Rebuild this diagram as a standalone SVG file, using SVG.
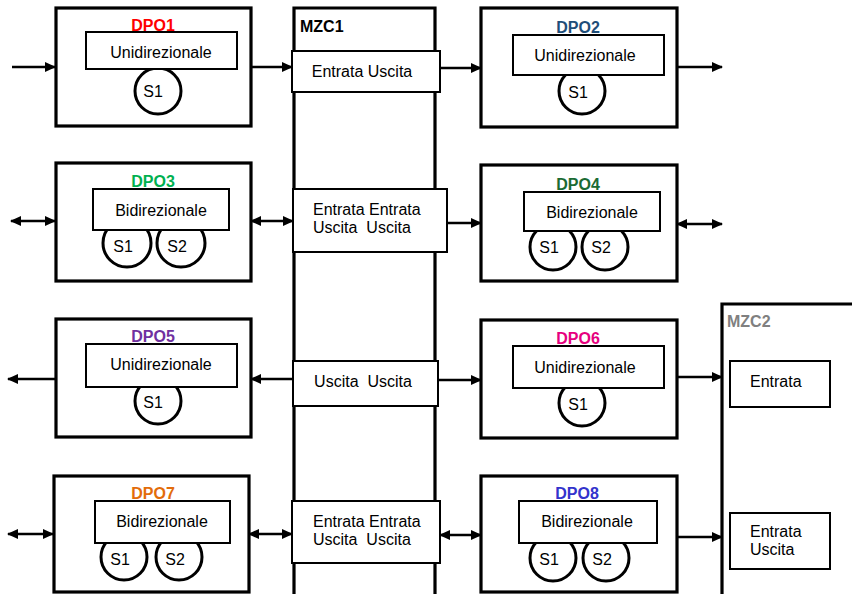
<svg xmlns="http://www.w3.org/2000/svg" width="852" height="594" viewBox="0 0 852 594">
<defs>
<marker id="ah" markerUnits="userSpaceOnUse" markerWidth="12" markerHeight="10" refX="10" refY="5" orient="auto-start-reverse">
<path d="M0,0 L11,5 L0,10 z" fill="#000"/>
</marker>
</defs>
<style>
.ob{fill:#fff;stroke:#000;stroke-width:3.2}
.ib{fill:#fff;stroke:#000;stroke-width:2}
.ci{fill:#fff;stroke:#000;stroke-width:3}
.t{font-family:"Liberation Sans",Arial,sans-serif;font-size:16px;fill:#000}
.c{text-anchor:middle}
.lb{font-family:"Liberation Sans",Arial,sans-serif;font-size:16px;font-weight:bold;text-anchor:middle}
.ar{stroke:#000;stroke-width:2.7;fill:none;marker-end:url(#ah)}
.bi{stroke:#000;stroke-width:2.7;fill:none;marker-end:url(#ah);marker-start:url(#ah)}
</style>
<rect width="852" height="594" fill="#fff"/>

<g id="MZC1">
<path d="M294,600 V8 H435 V600" fill="#fff" stroke="#000" stroke-width="3.2"/>
<text x="300" y="32" class="lb" style="text-anchor:start" fill="#000">MZC1</text>
<rect x="292" y="51" width="148" height="41" class="ib"/>
<text x="362" y="77" class="t c">Entrata Uscita</text>
<rect x="293" y="189" width="154" height="63" class="ib"/>
<text x="313" y="215" class="t">Entrata Entrata</text>
<text x="313" y="233" class="t" xml:space="preserve">Uscita  Uscita</text>
<rect x="293" y="361" width="145" height="45" class="ib"/>
<text x="363" y="387" class="t c" xml:space="preserve">Uscita  Uscita</text>
<rect x="292" y="501" width="148" height="62" class="ib"/>
<text x="313" y="527" class="t">Entrata Entrata</text>
<text x="313" y="545" class="t" xml:space="preserve">Uscita  Uscita</text>
</g>

<g id="MZC2">
<path d="M722,600 V304 H860" fill="#fff" stroke="#000" stroke-width="3.2"/>
<text x="727" y="327" class="lb" style="text-anchor:start" fill="#808080">MZC2</text>
<rect x="730" y="361" width="100" height="46" class="ib"/>
<text x="750" y="387" class="t">Entrata</text>
<rect x="730" y="513" width="100" height="56" class="ib"/>
<text x="750" y="537" class="t">Entrata</text>
<text x="750" y="555" class="t">Uscita</text>
</g>

<g id="DPO1">
<rect x="56" y="8" width="195" height="118" class="ob"/>
<text x="153" y="31" class="lb" fill="#FF0000">DPO1</text>
<circle cx="158" cy="91" r="23" class="ci"/>
<text x="153" y="97" class="t c">S1</text>
<rect x="86" y="32" width="151" height="37" class="ib"/>
<text x="161" y="58" class="t c">Unidirezionale</text>
</g>

<g id="DPO2">
<rect x="481" y="8" width="196" height="119" class="ob"/>
<text x="578" y="33" class="lb" fill="#1F4E79">DPO2</text>
<circle cx="582" cy="91" r="23" class="ci"/>
<text x="578" y="98" class="t c">S1</text>
<rect x="513" y="35" width="151" height="40" class="ib"/>
<text x="585" y="61" class="t c">Unidirezionale</text>
</g>

<g id="DPO3">
<rect x="56" y="163" width="195" height="118" class="ob"/>
<text x="153" y="187" class="lb" fill="#00B050">DPO3</text>
<circle cx="127" cy="243" r="24" class="ci"/>
<circle cx="181" cy="243" r="24" class="ci"/>
<text x="123" y="252" class="t c">S1</text>
<text x="177" y="252" class="t c">S2</text>
<rect x="93" y="189" width="136" height="41" class="ib"/>
<text x="161" y="216" class="t c">Bidirezionale</text>
</g>

<g id="DPO4">
<rect x="481" y="165" width="196" height="116" class="ob"/>
<text x="578" y="190" class="lb" fill="#1B6B33">DPO4</text>
<circle cx="553" cy="247" r="23" class="ci"/>
<circle cx="605" cy="247" r="23" class="ci"/>
<text x="549" y="253" class="t c">S1</text>
<text x="601" y="253" class="t c">S2</text>
<rect x="524" y="192" width="136" height="39" class="ib"/>
<text x="592" y="218" class="t c">Bidirezionale</text>
</g>

<g id="DPO5">
<rect x="56" y="319" width="195" height="118" class="ob"/>
<text x="153" y="342" class="lb" fill="#7030A0">DPO5</text>
<circle cx="158" cy="401" r="23" class="ci"/>
<text x="153" y="408" class="t c">S1</text>
<rect x="86" y="344" width="151" height="43" class="ib"/>
<text x="161" y="370" class="t c">Unidirezionale</text>
</g>

<g id="DPO6">
<rect x="481" y="320" width="196" height="118" class="ob"/>
<text x="578" y="344" class="lb" fill="#E6007E">DPO6</text>
<circle cx="582" cy="403" r="23" class="ci"/>
<text x="578" y="410" class="t c">S1</text>
<rect x="513" y="346" width="151" height="42" class="ib"/>
<text x="585" y="373" class="t c">Unidirezionale</text>
</g>

<g id="DPO7">
<rect x="54" y="476" width="195" height="116" class="ob"/>
<text x="153" y="499" class="lb" fill="#E36C0A">DPO7</text>
<circle cx="124" cy="557" r="23" class="ci"/>
<circle cx="179" cy="557" r="23" class="ci"/>
<text x="120" y="565" class="t c">S1</text>
<text x="175" y="565" class="t c">S2</text>
<rect x="95" y="501" width="135" height="42" class="ib"/>
<text x="162" y="527" class="t c">Bidirezionale</text>
</g>

<g id="DPO8">
<rect x="481" y="476" width="196" height="116" class="ob"/>
<text x="577" y="499" class="lb" fill="#3333CC">DPO8</text>
<circle cx="553" cy="558" r="23" class="ci"/>
<circle cx="606" cy="558" r="23" class="ci"/>
<text x="549" y="565" class="t c">S1</text>
<text x="602" y="565" class="t c">S2</text>
<rect x="519" y="501" width="138" height="42" class="ib"/>
<text x="587" y="527" class="t c">Bidirezionale</text>
</g>

<g id="connectors">
<line x1="12" y1="67" x2="55" y2="67" class="ar"/>
<line x1="251" y1="67" x2="292" y2="67" class="ar"/>
<line x1="440" y1="68" x2="481" y2="68" class="ar"/>
<line x1="677" y1="67" x2="722" y2="67" class="ar"/>

<line x1="11" y1="221" x2="55" y2="221" class="bi"/>
<line x1="251" y1="221" x2="293" y2="221" class="bi"/>
<line x1="447" y1="223" x2="481" y2="223" class="ar"/>
<line x1="677" y1="224" x2="722" y2="224" class="bi"/>

<line x1="55" y1="379" x2="8" y2="379" class="ar"/>
<line x1="293" y1="379" x2="251" y2="379" class="ar"/>
<line x1="438" y1="380" x2="481" y2="380" class="ar"/>
<line x1="677" y1="377" x2="722" y2="377" class="ar"/>

<line x1="8" y1="534" x2="53" y2="534" class="bi"/>
<line x1="249" y1="534" x2="292" y2="534" class="bi"/>
<line x1="440" y1="535" x2="481" y2="535" class="bi"/>
<line x1="677" y1="537" x2="722" y2="537" class="ar"/>
</g>
</svg>
